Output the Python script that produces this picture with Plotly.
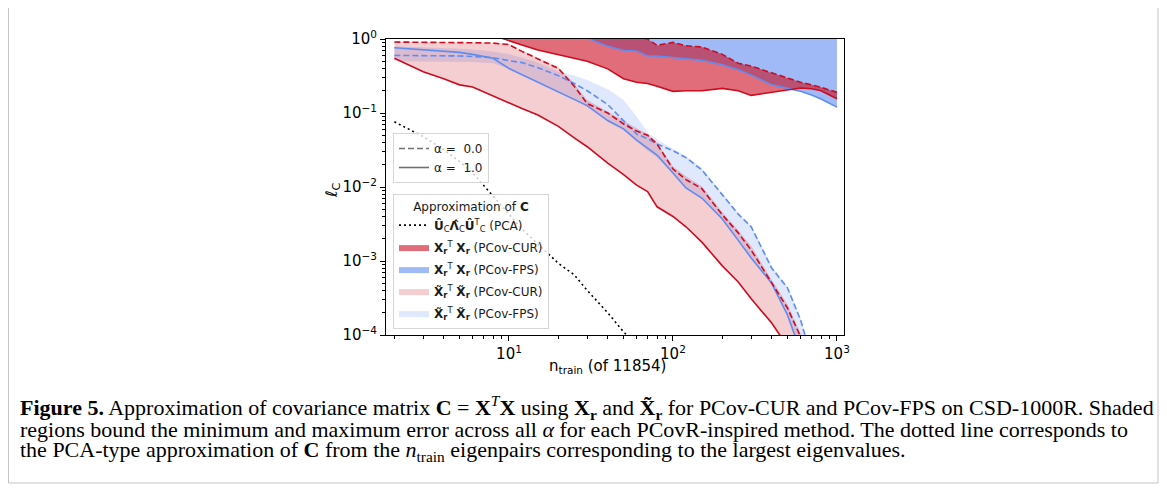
import plotly.graph_objects as go

# ---------------- data ----------------
n_train = [2, 3, 4, 5, 6, 8, 10, 12, 15, 20, 25, 30, 40, 50, 60, 70, 80, 100,
           120, 150, 200, 250, 300, 400, 500, 600, 700, 800, 1000]

# PCA-type approximation (dotted)
n_pca = [2, 3, 4, 5, 6, 8, 10, 12, 15, 20, 25, 30, 40, 50, 60]
pca_err = [0.076, 0.048, 0.032, 0.022, 0.0155, 0.0075, 0.0042, 0.0027, 0.0017,
           9.3e-4, 6.5e-4, 4.0e-4, 2.0e-4, 1.1e-4, 7.5e-5]

# X_r^T X_r  (PCov-CUR)
cur_x_a0 = [3.0, 2.8, 2.6, 2.5, 2.4, 2.2, 2.0, 1.9, 1.8, 1.7, 1.6, 1.5, 1.35, 1.2,
            1.08, 1.0, 0.82, 0.9, 0.81, 0.78, 0.62, 0.47, 0.43, 0.35, 0.30, 0.26,
            0.24, 0.222, 0.19]
cur_x_a1 = [2.2, 2.0, 1.8, 1.6, 1.45, 1.12, 0.94, 0.83, 0.71, 0.61, 0.54, 0.50,
            0.395, 0.29, 0.26, 0.25, 0.23, 0.196, 0.20, 0.20, 0.215, 0.20, 0.173,
            0.19, 0.205, 0.218, 0.213, 0.20, 0.156]

# X_r^T X_r  (PCov-FPS)
fps_x_a1 = [2.6, 2.4, 2.2, 2.0, 1.9, 1.7, 1.55, 1.45, 1.3, 1.18, 1.08, 1.02, 0.80,
            0.70, 0.69, 0.59, 0.59, 0.56, 0.54, 0.515, 0.45, 0.385, 0.325, 0.24,
            0.215, 0.197, 0.175, 0.155, 0.12]
fps_x_max = [4.0, 4.0, 4.0, 4.0, 4.0, 4.0, 4.0, 4.0, 4.0, 4.0, 4.0, 4.0, 4.0, 4.0,
             4.0, 4.0, 4.0, 4.0, 4.0, 4.0, 4.0, 4.0, 4.0, 4.0, 4.0, 4.0, 4.0, 4.0, 4.0]

# X~_r^T X~_r  (PCov-CUR)
cur_t_a0 = [0.91, 0.91, 0.90, 0.90, 0.89, 0.88, 0.84, 0.68, 0.54, 0.40, 0.23, 0.134,
            0.10, 0.071, 0.057, 0.050, 0.038, 0.0175, 0.0126, 0.0095, 0.0042,
            0.0024, 0.0014, 5.1e-4, 2.3e-4, 9.5e-5, 5e-5, 3e-5, 1.5e-5]
cur_t_a1 = [0.55, 0.36, 0.29, 0.24, 0.225, 0.17, 0.135, 0.115, 0.094, 0.066, 0.046,
            0.035, 0.021, 0.0147, 0.0106, 0.0087, 0.0054, 0.0040, 0.0029, 0.0018,
            8.6e-4, 5.2e-4, 3.1e-4, 1.45e-4, 7e-5, 4e-5, 2.5e-5, 1.5e-5, 8e-6]
cur_t_max = [0.92, 0.92, 0.91, 0.91, 0.90, 0.89, 0.86, 0.70, 0.56, 0.42, 0.25, 0.15,
             0.105, 0.078, 0.062, 0.052, 0.040, 0.019, 0.014, 0.0102, 0.0046,
             0.0026, 0.0016, 5.6e-4, 2.6e-4, 1.05e-4, 5.5e-5, 3.3e-5, 1.6e-5]

# X~_r^T X~_r  (PCov-FPS)
fps_t_a0 = [0.60, 0.60, 0.59, 0.59, 0.58, 0.56, 0.51, 0.48, 0.41, 0.32, 0.25, 0.20,
            0.13, 0.079, 0.052, 0.045, 0.038, 0.031, 0.025, 0.017, 0.0078, 0.0043,
            0.0029, 8e-4, 4.3e-4, 1.6e-4, 5e-5, 2e-5, 1e-5]
fps_t_a1 = [0.76, 0.72, 0.69, 0.66, 0.62, 0.55, 0.40, 0.33, 0.26, 0.192, 0.155,
            0.126, 0.079, 0.061, 0.043, 0.033, 0.027, 0.0155, 0.0097, 0.0071,
            0.0037, 0.0019, 0.0011, 5.0e-4, 1.85e-4, 6e-5, 3e-5, 1.5e-5, 8e-6]
fps_t_max = [0.80, 0.78, 0.76, 0.74, 0.72, 0.68, 0.62, 0.56, 0.48, 0.36, 0.32,
             0.28, 0.21, 0.15, 0.09, 0.055, 0.044, 0.033, 0.026, 0.018, 0.0082,
             0.0045, 0.003, 8.5e-4, 4.5e-4, 1.7e-4, 5.5e-5, 2.2e-5, 1.1e-5]
fps_t_min = [0.50, 0.50, 0.50, 0.50, 0.49, 0.47, 0.40, 0.33, 0.26, 0.19, 0.15,
             0.12, 0.076, 0.058, 0.042, 0.031, 0.025, 0.015, 0.0095, 0.007,
             0.0036, 0.0019, 0.0011, 4.9e-4, 1.8e-4, 6e-5, 3e-5, 1.5e-5, 8e-6]

x_major = [10, 100, 1000]
x_major_text = ["10<sup>1</sup>", "10<sup>2</sup>", "10<sup>3</sup>"]
x_minor = [2, 3, 4, 5, 6, 7, 8, 9, 20, 30, 40, 50, 60, 70, 80, 90,
           200, 300, 400, 500, 600, 700, 800, 900]
y_major = [1e-4, 1e-3, 1e-2, 1e-1, 1]
y_major_text = ["10<sup>\u22124</sup>", "10<sup>\u22123</sup>", "10<sup>\u22122</sup>",
                "10<sup>\u22121</sup>", "10<sup>0</sup>"]
y_minor = [2e-4, 3e-4, 4e-4, 5e-4, 6e-4, 7e-4, 8e-4, 9e-4,
           2e-3, 3e-3, 4e-3, 5e-3, 6e-3, 7e-3, 8e-3, 9e-3,
           2e-2, 3e-2, 4e-2, 5e-2, 6e-2, 7e-2, 8e-2, 9e-2,
           0.2, 0.3, 0.4, 0.5, 0.6, 0.7, 0.8, 0.9]

# ---------------- styling ----------------
RED = "rgb(204,12,31)"
BLUE = "rgb(95,140,240)"
RED_DARK_FILL = "rgba(204,12,31,0.6)"
BLUE_DARK_FILL = "rgba(95,140,240,0.6)"
RED_LIGHT_FILL = "rgba(204,12,31,0.2)"
BLUE_LIGHT_FILL = "rgba(95,140,240,0.2)"
FONT = "DejaVu Sans"
DASH = "6px,3px"

# The page body has an 8px margin, so the figure starts at (8, 8) of the window.
OFF = 8
WIN_W, WIN_H = 1167, 492
W, H = WIN_W - OFF, WIN_H - OFF
# plot area in window pixels
L, R, T, B = 386, 844, 39, 335


def px_x(p):
    return (p - L) / (R - L)


def px_y(p):
    return (B - p) / (B - T)


fig = go.Figure()


def band(lo, hi, fill, name, rank):
    fig.add_trace(go.Scatter(x=n_train, y=lo, mode="lines", line=dict(width=0),
                             showlegend=False, hoverinfo="skip"))
    fig.add_trace(go.Scatter(x=n_train, y=hi, mode="lines", line=dict(width=0),
                             fill="tonexty", fillcolor=fill, name=name,
                             legend="legend2", legendrank=rank,
                             legendgroup="g%d" % rank, hoverinfo="skip"))


XR = "<b>X</b><sub><b>r</b></sub><sup>T</sup> <b>X</b><sub><b>r</b></sub>"
XT = "<b>X\u0303</b><sub><b>r</b></sub><sup>T</sup> <b>X\u0303</b><sub><b>r</b></sub>"

band(fps_x_a1, fps_x_max, BLUE_DARK_FILL, XR + " (PCov-FPS)", 3)
band(cur_x_a1, cur_x_a0, RED_DARK_FILL, XR + " (PCov-CUR)", 2)
band(fps_t_min, fps_t_max, BLUE_LIGHT_FILL, XT + " (PCov-FPS)", 5)
band(cur_t_a1, cur_t_max, RED_LIGHT_FILL, XT + " (PCov-CUR)", 4)


def line(y, color, dash):
    fig.add_trace(go.Scatter(x=n_train, y=y, mode="lines",
                             line=dict(color=color, width=1.6, dash=dash),
                             showlegend=False, hoverinfo="skip"))


line(fps_x_a1, BLUE, "solid")
line(cur_x_a1, RED, "solid")
line(cur_x_a0, RED, DASH)
line(fps_t_a1, BLUE, "solid")
line(fps_t_a0, BLUE, DASH)
line(cur_t_a1, RED, "solid")
line(cur_t_a0, RED, DASH)

fig.add_trace(go.Scatter(x=n_pca, y=pca_err, mode="lines",
                         line=dict(color="black", width=1.6, dash="2px,3px"),
                         name="<b>\u00db</b><sub>C</sub><b>\u039b\u0302</b><sub>C</sub>"
                              "<b>\u00db</b><sup>T</sup><sub>C</sub> (PCA)",
                         legend="legend2", legendrank=1, legendgroup="g1",
                         hoverinfo="skip"))

# alpha legend
fig.add_trace(go.Scatter(x=[None], y=[None], mode="lines",
                         line=dict(color="#707070", width=1.6, dash=DASH),
                         name="\u03b1 =  0.0", legend="legend"))
fig.add_trace(go.Scatter(x=[None], y=[None], mode="lines",
                         line=dict(color="#707070", width=1.6),
                         name="\u03b1 =  1.0", legend="legend"))

axis_common = dict(type="log", showline=True, linecolor="black", linewidth=1,
                   mirror=True, ticks="outside", ticklen=5, tickcolor="black",
                   showgrid=False, zeroline=False,
                   tickfont=dict(family=FONT, size=15, color="black"))

LEG_FONT = dict(family=FONT, size=12, color="#1a1a1a")
fig.update_layout(
    width=W, height=H,
    margin=dict(l=L - OFF, r=WIN_W - R, t=T - OFF, b=WIN_H - B),
    paper_bgcolor="white", plot_bgcolor="white",
    font=dict(family=FONT, color="black"),
    xaxis=dict(range=[0.25, 3.043], tickvals=x_major, ticktext=x_major_text,
               minor=dict(tickvals=x_minor, ticks="outside", ticklen=3,
                          tickcolor="black"), **axis_common),
    yaxis=dict(range=[-4, 0], tickvals=y_major, ticktext=y_major_text,
               minor=dict(tickvals=y_minor, ticks="outside", ticklen=3,
                          tickcolor="black"), **axis_common),
    legend=dict(x=px_x(393), y=px_y(133), xanchor="left", yanchor="top",
                bgcolor="rgba(255,255,255,0.8)", bordercolor="#d6d6d6",
                borderwidth=1, font=LEG_FONT, traceorder="normal"),
    legend2=dict(x=px_x(393), y=px_y(194), xanchor="left", yanchor="top",
                 bgcolor="rgba(255,255,255,0.8)", bordercolor="#d6d6d6",
                 borderwidth=1, font=LEG_FONT, traceorder="grouped",
                 tracegroupgap=3,
                 title=dict(text="Approximation of <b>C</b>", side="top center",
                            font=LEG_FONT)),
)

# axis titles
fig.add_annotation(x=px_x(607), y=px_y(366), xref="paper", yref="paper",
                   showarrow=False, text="n<sub>train</sub> (of 11854)",
                   font=dict(family=FONT, size=15, color="black"),
                   xanchor="center", yanchor="middle")
fig.add_annotation(x=px_x(332), y=px_y(190), xref="paper", yref="paper",
                   showarrow=False, text="\u2113<sub>C</sub>", textangle=-90,
                   font=dict(family=FONT, size=16, color="black"),
                   xanchor="center", yanchor="middle")

# caption
CAP = "Liberation Serif"
caption_lines = [
    "<b>Figure 5.</b> Approximation of covariance matrix <b>C</b> = <b>X</b><sup><i>T</i></sup><b>X</b>"
    " using <b>X</b><sub><b>r</b></sub> and <b>X\u0303</b><sub><b>r</b></sub> for PCov-CUR and"
    " PCov-FPS on CSD-1000R. Shaded",
    "regions bound the minimum and maximum error across all <i>\u03b1</i> for each"
    " PCovR-inspired method. The dotted line corresponds to",
    "the PCA-type approximation of <b>C</b> from the <i>n</i><sub>train</sub> eigenpairs"
    " corresponding to the largest eigenvalues.",
]
caption_y = [407, 429, 451]
for txt, yy in zip(caption_lines, caption_y):
    fig.add_annotation(x=px_x(18), y=px_y(yy), xref="paper", yref="paper",
                       showarrow=False, text=txt, xanchor="left", yanchor="middle",
                       align="left", font=dict(family=CAP, size=22, color="black"))

# page frame
FRAME = "#c4c4c4"
for x0, y0, x1, y1 in [(8.5, -5, 8.5, 483), (1158, -5, 1158, 483),
                       (8.5, 483, 1158, 483)]:
    fig.add_shape(type="line", xref="paper", yref="paper",
                  x0=px_x(x0), y0=px_y(y0), x1=px_x(x1), y1=px_y(y1),
                  line=dict(color=FRAME, width=1))

fig.write_html("out.html")
